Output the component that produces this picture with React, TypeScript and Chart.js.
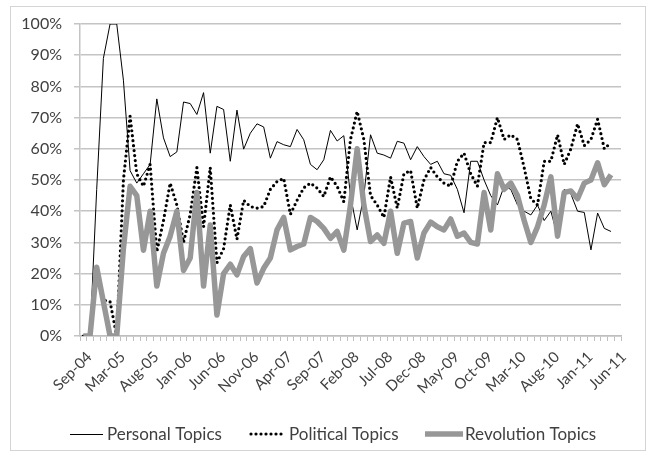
import React, { useEffect, useRef } from 'react';
import { Chart, registerables } from 'chart.js';

Chart.register(...registerables);

const categories: string[] = [
  'Sep-04', 'Oct-04', 'Nov-04', 'Dec-04', 'Feb-05',
  'Mar-05', 'Apr-05', 'May-05', 'Jun-05', 'Jul-05', 'Aug-05', 'Sep-05', 'Oct-05', 'Nov-05', 'Dec-05',
  'Jan-06', 'Feb-06', 'Mar-06', 'Apr-06', 'May-06', 'Jun-06', 'Jul-06', 'Aug-06', 'Sep-06', 'Oct-06', 'Nov-06', 'Dec-06',
  'Jan-07', 'Feb-07', 'Mar-07', 'Apr-07', 'May-07', 'Jun-07', 'Jul-07', 'Aug-07', 'Sep-07', 'Oct-07', 'Nov-07', 'Dec-07',
  'Jan-08', 'Feb-08', 'Mar-08', 'Apr-08', 'May-08', 'Jun-08', 'Jul-08', 'Aug-08', 'Sep-08', 'Oct-08', 'Nov-08', 'Dec-08',
  'Jan-09', 'Feb-09', 'Mar-09', 'Apr-09', 'May-09', 'Jun-09', 'Jul-09', 'Aug-09', 'Sep-09', 'Oct-09', 'Nov-09', 'Dec-09',
  'Jan-10', 'Feb-10', 'Mar-10', 'Apr-10', 'May-10', 'Jun-10', 'Jul-10', 'Aug-10', 'Sep-10', 'Oct-10', 'Nov-10', 'Dec-10',
  'Jan-11', 'Feb-11', 'Mar-11', 'Apr-11', 'May-11', 'Jun-11',
];

const personalTopics: (number | null)[] = [
  0, 0, 47, 89, 100, 100, 82, 53, 49, 52,
  55, 76, 63.5, 57.5, 59, 75, 74.5, 71, 78, 58.6,
  73.6, 72.6, 56, 72.4, 59.9, 65, 68, 67, 57, 62.3,
  61.3, 60.7, 66.2, 62.9, 55, 53.3, 56.5, 65.9, 62.5, 64.2,
  45, 34, 45, 64.5, 58.6, 58, 57, 62.4, 61.8, 56.5,
  60.7, 57.5, 55, 56, 52, 51.5, 47, 39.5, 56, 56,
  50, 45, 42, 48, 47, 42, 40, 38.8, 42, 37,
  40, 32, 47, 45.5, 40, 39.6, 27.6, 39.4, 34.5, 33.5,
  null,
];

const politicalTopics: (number | null)[] = [
  0, 0, 21, 11.5, 11, 0, 50, 70.5, 52, 48,
  55, 27, 37, 49, 42, 30, 39, 54, 35, 54,
  23.5, 28, 42, 31, 43.5, 41.5, 41, 41.5, 47, 49.5,
  50.5, 39, 43.5, 47.5, 49, 47.4, 44.7, 51, 48, 43,
  63, 72, 63, 45, 42, 38, 51, 41, 52, 53,
  41, 50, 54, 51, 49, 48, 56, 58.6, 52, 48,
  62, 62, 70, 63, 64.5, 63, 54, 44, 42, 56,
  56, 64.5, 55, 60, 68, 61, 63, 69.5, 60, 62,
  null,
];

const revolutionTopics: (number | null)[] = [
  0, 0, 22, 11, 0, 0, 28, 48, 45, 27.5,
  40, 16, 26.5, 32, 40, 21, 25, 46, 16, 35.6,
  6.7, 20, 23, 19.6, 25.5, 28, 17, 21.7, 25, 34,
  38, 27.6, 28.7, 29.5, 38, 36.7, 34.5, 31.3, 33.5, 27.5,
  42, 60, 42, 30.3, 32.4, 29.7, 40, 26.5, 36.2, 36.7,
  25, 33, 36.5, 35, 34, 37.5, 32, 33, 30, 29.5,
  46, 34, 52, 47, 49, 45, 37, 30, 35, 42,
  51, 32, 46, 46.5, 44, 49, 50, 55.5, 48.5, 51.7,
  null,
];

const yMin = 0;
const yMax = 100;
const yStep = 10;

const FONT = 'Lato, "Open Sans", sans-serif';
const TEXT_COLOR = '#404040';
const GRID_COLOR = '#c4c4c4';
const GRAY_LINE = '#979797';

const legendPlugin = {
  id: 'excelLegend',
  afterDraw(chart: any) {
    const ctx: CanvasRenderingContext2D = chart.ctx;
    const ds = chart.data.datasets;
    const y = 434;
    ctx.save();
    // Personal sample
    ctx.strokeStyle = '#000';
    ctx.lineWidth = 1;
    ctx.setLineDash([]);
    ctx.beginPath();
    ctx.moveTo(70, y + 0.5);
    ctx.lineTo(103, y + 0.5);
    ctx.stroke();
    // Political sample
    ctx.lineWidth = 3.2;
    ctx.lineCap = 'round';
    ctx.setLineDash([0, 5]);
    ctx.beginPath();
    ctx.moveTo(251, y);
    ctx.lineTo(284, y);
    ctx.stroke();
    // Revolution sample
    ctx.setLineDash([]);
    ctx.lineCap = 'butt';
    ctx.strokeStyle = GRAY_LINE;
    ctx.lineWidth = 5.5;
    ctx.beginPath();
    ctx.moveTo(425, y);
    ctx.lineTo(463, y);
    ctx.stroke();
    // Texts
    ctx.fillStyle = TEXT_COLOR;
    ctx.font = '17px ' + FONT;
    ctx.textBaseline = 'middle';
    ctx.textAlign = 'left';
    ctx.fillText(ds[0].label, 107, y + 1);
    ctx.fillText(ds[1].label, 289, y + 1);
    ctx.fillText(ds[2].label, 465, y + 1);
    ctx.restore();
  },
};

export default function App() {
  const canvasRef = useRef<HTMLCanvasElement | null>(null);

  useEffect(() => {
    const canvas = canvasRef.current;
    if (!canvas) return;
    const chart = new Chart(canvas, {
      type: 'line',
      data: {
        labels: categories,
        datasets: [
          {
            label: 'Personal Topics',
            data: personalTopics,
            borderColor: '#000000',
            backgroundColor: '#000000',
            borderWidth: 1,
            pointRadius: 0,
            tension: 0,
            order: 2,
          },
          {
            label: 'Political Topics',
            data: politicalTopics,
            borderColor: '#000000',
            backgroundColor: '#000000',
            borderWidth: 3.2,
            borderDash: [0, 5],
            borderCapStyle: 'round',
            borderJoinStyle: 'round',
            pointRadius: 0,
            tension: 0,
            order: 1,
          },
          {
            label: 'Revolution Topics',
            data: revolutionTopics,
            borderColor: GRAY_LINE,
            backgroundColor: GRAY_LINE,
            borderWidth: 5.5,
            borderJoinStyle: 'round',
            borderCapStyle: 'butt',
            pointRadius: 0,
            tension: 0,
            order: 0,
          },
        ],
      },
      options: {
        animation: false,
        responsive: false,
        maintainAspectRatio: false,
        events: [],
        layout: { padding: { left: 0, right: 31, top: 24, bottom: 0 } },
        plugins: {
          legend: { display: false },
          tooltip: { enabled: false },
          title: { display: false },
        },
        scales: {
          x: {
            type: 'category',
            offset: true,
            grid: {
              offset: true,
              drawOnChartArea: false,
              drawTicks: true,
              tickLength: 5,
              color: '#bfbfbf',
              lineWidth: 1,
            },
            border: { color: '#bfbfbf', width: 1.5 },
            ticks: {
              autoSkip: false,
              maxRotation: 45,
              minRotation: 45,
              padding: 7,
              labelOffset: 6,
              color: TEXT_COLOR,
              font: { family: FONT, size: 15 },
              callback: (_v: any, i: number) => (i % 5 === 0 ? categories[i] : ''),
            },
            afterFit: (scale: any) => {
              scale.height = 122;
            },
          },
          y: {
            min: yMin,
            max: yMax,
            grid: {
              color: GRID_COLOR,
              lineWidth: 1.5,
              tickLength: 6,
              drawTicks: true,
            },
            border: { color: GRID_COLOR, width: 1.5 },
            ticks: {
              stepSize: yStep,
              padding: 12,
              color: TEXT_COLOR,
              font: { family: FONT, size: 16 },
              callback: (v: any) => v + '%',
            },
            afterFit: (scale: any) => {
              scale.width = 80;
            },
          },
        },
      },
      plugins: [legendPlugin],
    } as any);
    return () => chart.destroy();
  }, []);

  return (
    <div style={{ position: 'fixed', left: 0, top: 0, width: 652, height: 458, background: '#fff' }}>
      <div
        style={{
          position: 'absolute',
          left: 10,
          top: 6,
          width: 636,
          height: 445,
          border: '1.5px solid #d4d4d4',
          boxSizing: 'border-box',
        }}
      />
      <canvas
        ref={canvasRef}
        width={652}
        height={458}
        style={{ position: 'absolute', left: 0, top: 0, width: 652, height: 458, display: 'block' }}
      />
    </div>
  );
}
